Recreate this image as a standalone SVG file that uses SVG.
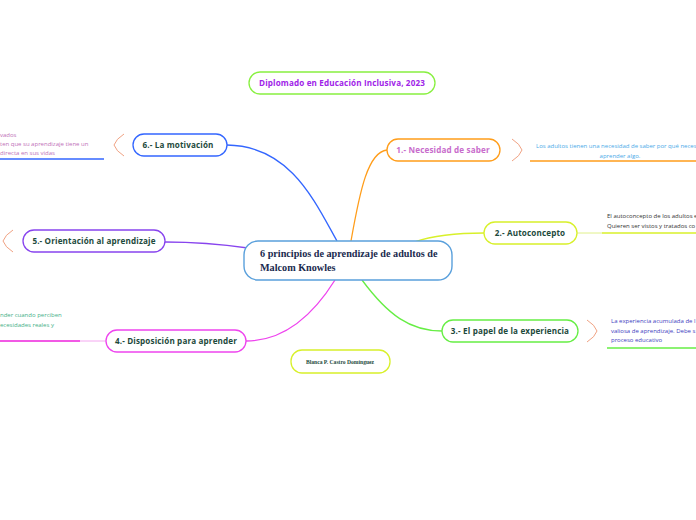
<svg xmlns="http://www.w3.org/2000/svg" width="696" height="520" viewBox="0 0 696 520">
<style>
.lbl{font-family:"Open Sans","Noto Sans",sans-serif;font-weight:bold;font-size:8.1px;fill:#1d4a3c;text-anchor:middle;letter-spacing:0.15px}
.note{font-family:"Open Sans","Noto Sans",sans-serif;font-size:6px}
.node{fill:#fff;stroke-width:1.3}
.br{fill:none;stroke:#f0a283;stroke-width:1}
.con{fill:none;stroke-width:1.3}
</style>
<rect width="696" height="520" fill="#fff"/>
<g id="connectors">
<path class="con" stroke="#3366ff" d="M227,145 C290,146 314,200 337,241"/>
<path class="con" stroke="#ff9d1a" d="M351,241 C360,190 368,152 387,150"/>
<path class="con" stroke="#d8f02a" d="M414,242 C432,236 455,233 484,233"/>
<path class="con" stroke="#66ee44" d="M362,280 C388,315 410,331 442,331"/>
<path class="con" stroke="#ee44ee" d="M335,280 C310,320 280,341 246,341"/>
<path class="con" stroke="#8844ee" d="M248,248 C220,244 192,242 165,242"/>
<path fill="none" stroke="#e0f08a" stroke-width="1" d="M577,233 H602"/>
<path fill="none" stroke="#f4a8f0" stroke-width="1" d="M80,341 H106"/>
</g>
<g id="title">
<rect class="node" stroke="#88f040" x="249" y="72" width="186" height="22" rx="11"/>
<text class="lbl" x="342" y="86" style="fill:#a024e8">Diplomado en Educación Inclusiva, 2023</text>
</g>
<g id="center">
<rect fill="#fff" stroke="#5aa0dc" stroke-width="1.4" x="244" y="241" width="208" height="39" rx="14"/>
<text x="260" y="257" style="font-family:'Liberation Serif',serif;font-weight:bold;font-size:10.2px;fill:#1a2a4e">6 principios de aprendizaje de adultos de</text>
<text x="260" y="271" style="font-family:'Liberation Serif',serif;font-weight:bold;font-size:10.2px;fill:#1a2a4e">Malcom Knowles</text>
</g>
<g id="n1">
<rect class="node" stroke="#ff9d1a" x="387" y="139" width="113" height="22" rx="11"/>
<text class="lbl" x="443" y="153" style="fill:#c86ccc">1.- Necesidad de saber</text>
<path class="br" d="M512,139 Q520,144 522,150 Q520,156 512,161"/>
<text class="note" x="536" y="148" style="fill:#4aaae8">Los adultos tienen una necesidad de saber por qué neces</text>
<text class="note" x="620" y="158" text-anchor="middle" style="fill:#4aaae8">aprender algo.</text>
<path stroke="#ff9d1a" stroke-width="1.3" d="M530,161 H696"/>
</g>
<g id="n2">
<rect class="node" stroke="#d8f02a" x="484" y="222" width="93" height="22" rx="11"/>
<text class="lbl" x="530" y="236">2.- Autoconcepto</text>
<text class="note" x="607" y="218" style="fill:#333">El autoconcepto de los adultos e</text>
<text class="note" x="607" y="228" style="fill:#333">Quieren ser vistos y tratados co</text>
<path stroke="#d8f02a" stroke-width="1.3" d="M602,233 H696"/>
</g>
<g id="n3">
<rect class="node" stroke="#66ee44" x="442" y="320" width="136" height="22" rx="11"/>
<text class="lbl" x="510" y="334">3.- El papel de la experiencia</text>
<path class="br" d="M587,320 Q595,325 597,331 Q595,337 587,342"/>
<text class="note" x="611" y="323" style="fill:#4040c0">La experiencia acumulada de l</text>
<text class="note" x="611" y="333" style="fill:#4040c0">valiosa de aprendizaje. Debe s</text>
<text class="note" x="611" y="342" style="fill:#4040c0">proceso educativo</text>
<path stroke="#66ee44" stroke-width="1.3" d="M607,348 H696"/>
</g>
<g id="n4">
<rect class="node" stroke="#ee44ee" x="106" y="330" width="140" height="22" rx="11"/>
<text class="lbl" x="176" y="344">4.- Disposición para aprender</text>
<text class="note" x="0" y="317" style="fill:#44b088">nder cuando perciben</text>
<text class="note" x="0" y="327" style="fill:#44b088">ecesidades reales y</text>
<path stroke="#ee22dd" stroke-width="1.3" d="M0,341 H80"/>
</g>
<g id="n5">
<rect class="node" stroke="#8844ee" x="23" y="230" width="142" height="22" rx="11"/>
<text class="lbl" x="94" y="244">5.- Orientación al aprendizaje</text>
<path class="br" d="M13,230 Q5,235 3,241 Q5,247 13,252"/>
</g>
<g id="n6">
<rect class="node" stroke="#3366ff" x="133" y="134" width="94" height="22" rx="11"/>
<text class="lbl" x="178" y="148">6.- La motivación</text>
<path class="br" d="M124,134 Q116,139 114,145 Q116,151 124,156"/>
<text class="note" x="0" y="137" style="fill:#c070b8">vados</text>
<text class="note" x="0" y="146" style="fill:#c070b8">ten que su aprendizaje tiene un</text>
<text class="note" x="0" y="155" style="fill:#c070b8">directa en sus vidas</text>
<path stroke="#3366ff" stroke-width="1.3" d="M0,159 H104"/>
</g>
<g id="author">
<rect class="node" stroke="#d8f02a" x="291" y="350" width="99" height="23" rx="11"/>
<text x="340" y="364" text-anchor="middle" style="font-family:'Liberation Serif',serif;font-weight:bold;font-size:5.6px;fill:#1d4a3c">Blanca P. Castro Domínguez</text>
</g>
</svg>
